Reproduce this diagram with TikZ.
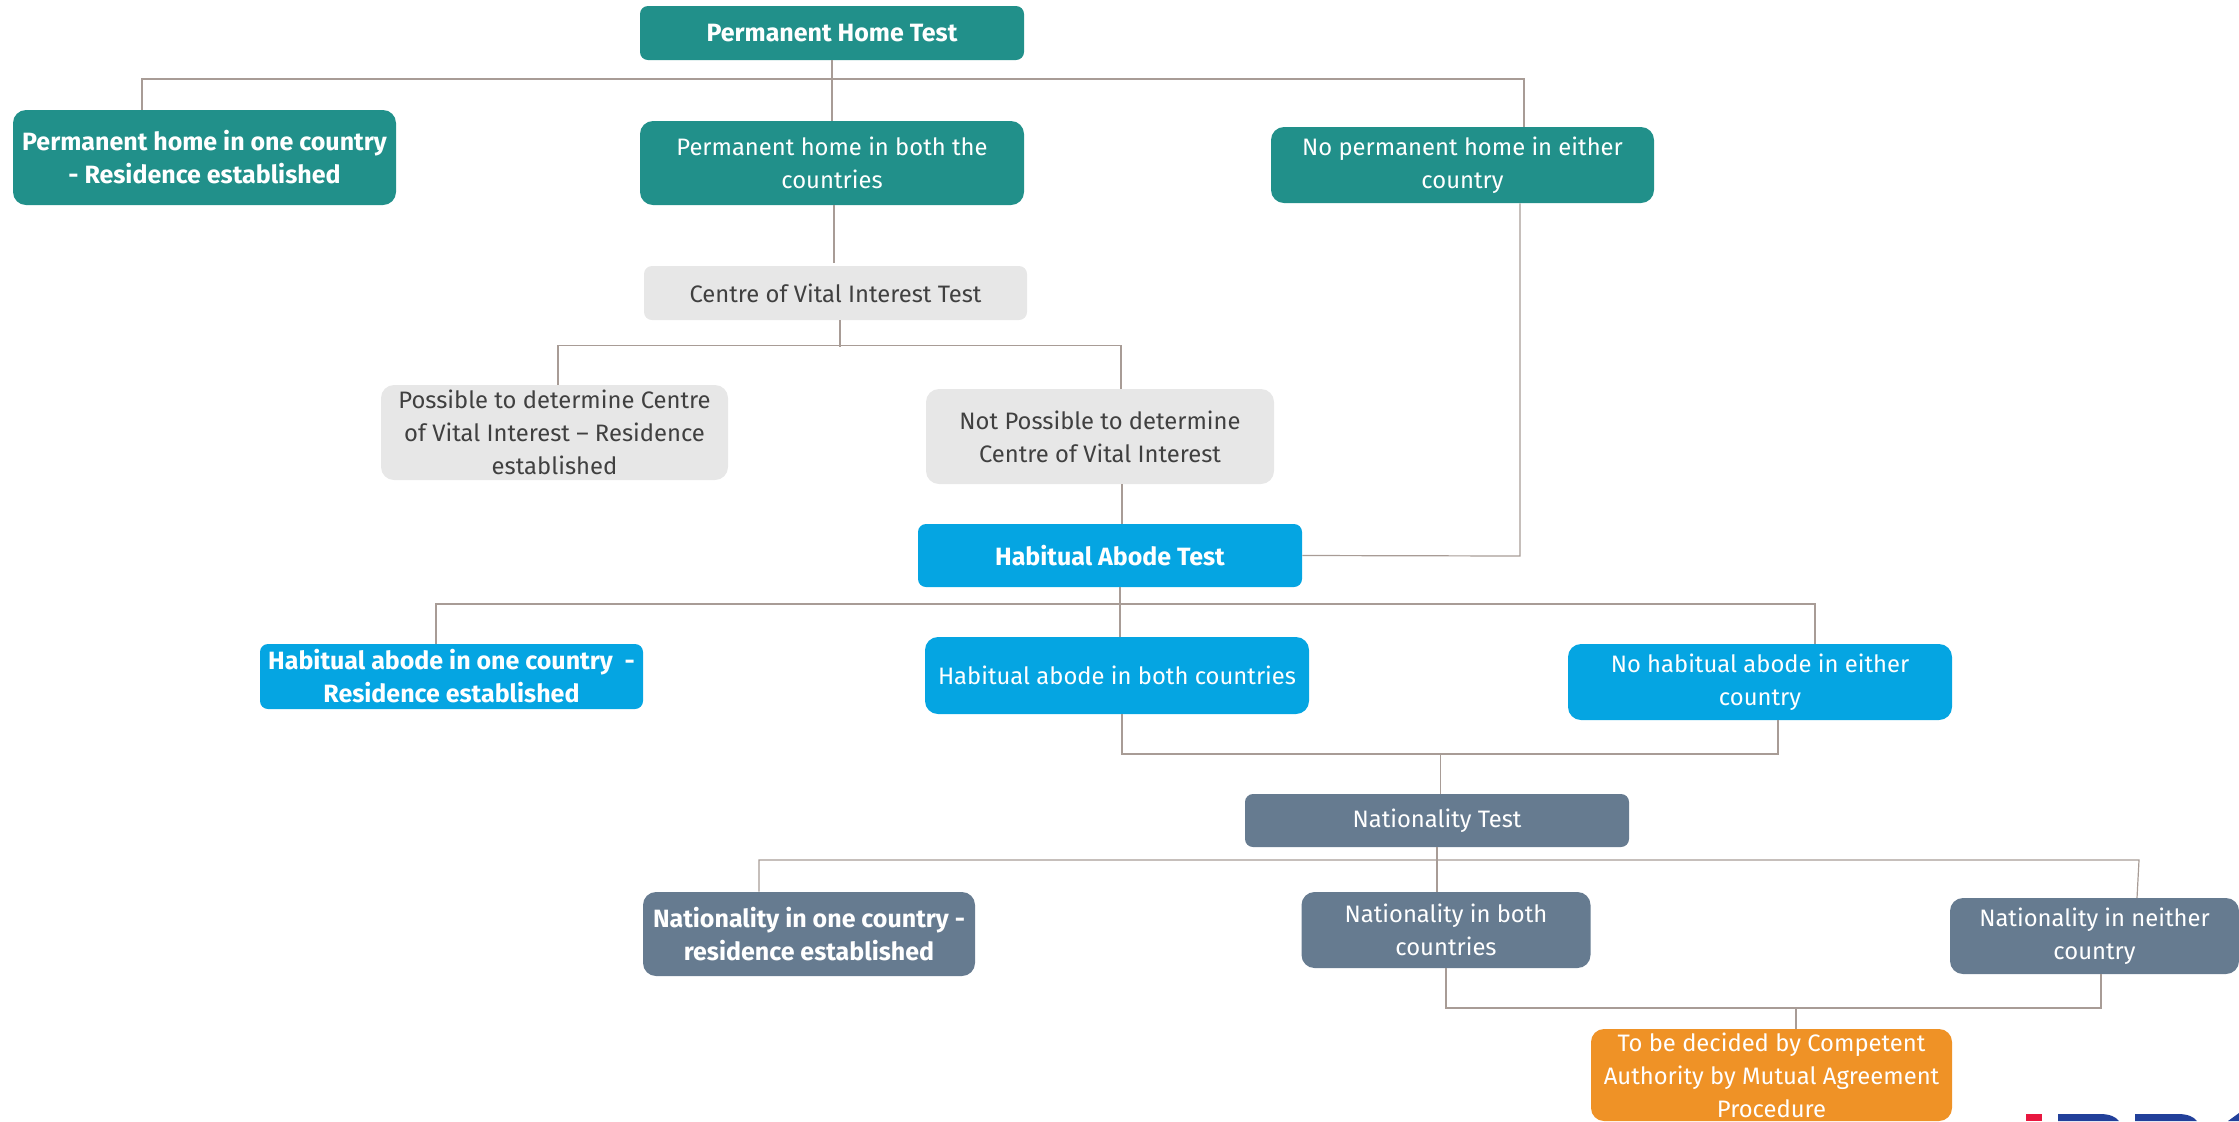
\documentclass[tikz,border=0pt]{standalone}
\usepackage{fontspec}
\setmainfont{Fira Sans}
\definecolor{tealbox}{HTML}{21908A}
\definecolor{greybox}{HTML}{E7E7E7}
\definecolor{bluebox}{HTML}{05A5E2}
\definecolor{slatebox}{HTML}{667B90}
\definecolor{orangebox}{HTML}{EF9226}
\definecolor{linkline}{HTML}{A89C96}
\definecolor{greytext}{HTML}{404040}
\definecolor{logored}{HTML}{E8173F}
\definecolor{logoblue}{HTML}{22409A}
\newcommand{\boxfont}{\fontsize{11.9}{16.5}\selectfont}
\newcommand{\boldboxfont}{\fontsize{12.5}{16.5}\selectfont\bfseries}
\tikzset{
    boxnode/.style={rounded corners=6.5pt, inner sep=0pt, align=center, font=\boxfont, text=white},
    boldnode/.style={font=\boldboxfont},
    lownode/.style={rounded corners=4pt},
    tealnode/.style={boxnode, fill=tealbox},
    greynode/.style={boxnode, fill=greybox, text=greytext},
    bluenode/.style={boxnode, fill=bluebox},
    slatenode/.style={boxnode, fill=slatebox},
    orangenode/.style={boxnode, fill=orangebox},
    link/.style={draw=linkline, line width=0.6pt},
    size/.style 2 args={minimum width=#1*0.5pt, minimum height=#2*0.5pt},
}
\begin{document}
\begin{tikzpicture}[x=0.5pt,y=-0.5pt]
    \useasboundingbox (0,0) rectangle (2239,1121);

    % Permanent home row
    \node[tealnode, boldnode, lownode, size={384}{54}] (homeTest) at (832,33) {Permanent Home Test};
    \node[tealnode, boldnode, size={383}{95}] (homeOne) at (204.5,157.5) {Permanent home in one country\\- Residence established};
    \node[tealnode, size={384}{84}] (homeBoth) at (832,163) {Permanent home in both the\\countries};
    \node[tealnode, size={383}{76}] (homeNone) at (1462.5,165) {No permanent home in either\\country};

    % Centre of vital interest
    \node[greynode, lownode, size={383}{54}] (vitalTest) at (835.5,293) {Centre of Vital Interest Test};
    \node[greynode, size={347}{95}] (vitalYes) at (554.5,432.5) {Possible to determine Centre\\of Vital Interest -- Residence\\established};
    \node[greynode, size={348}{95}] (vitalNo) at (1100,436.5) {Not Possible to determine\\Centre of Vital Interest};

    % Habitual abode
    \node[bluenode, boldnode, lownode, size={384}{63}] (abodeTest) at (1110,555.5) {Habitual Abode Test};
    \node[bluenode, boldnode, lownode, size={383}{65}] (abodeOne) at (451.5,676.5) {Habitual abode in one country\ \ -\\Residence established};
    \node[bluenode, size={384}{77}] (abodeBoth) at (1117,675.5) {Habitual abode in both countries};
    \node[bluenode, size={384}{76}] (abodeNone) at (1760,682) {No habitual abode in either\\country};

    % Nationality
    \node[slatenode, lownode, size={384}{53}] (natTest) at (1437,820.5) {Nationality Test};
    \node[slatenode, boldnode, size={332}{84}] (natOne) at (809,934) {Nationality in one country -\\residence established};
    \node[slatenode, size={289}{76}] (natBoth) at (1446,930) {Nationality in both\\countries};
    \node[slatenode, size={289}{76}] (natNeither) at (2094.5,936) {Nationality in neither\\country};
    \node[orangenode, size={361}{92}] (authority) at (1771.5,1075) {To be decided by Competent\\Authority by Mutual Agreement\\Procedure};

    % Logo, cut by the lower edge
    \fill[logored] (2026,1114) rectangle (2042,1121);
    \fill[logoblue] (2058,1121) -- (2058,1114) -- (2100,1114) .. controls (2110,1114) and (2116,1117) .. (2119,1121) -- cycle;
    \fill[logoblue] (2135,1121) -- (2135,1114) -- (2178,1114) .. controls (2188,1114) and (2194,1117) .. (2197,1121) -- cycle;
    \fill[logoblue] (2228,1121) -- (2239,1113) -- (2239,1121) -- cycle;

    % Bus under the permanent home test
    \coordinate (homeBusL) at (142,79);
    \coordinate (homeBusR) at (1524,79);
    \draw[link] (homeTest) -- (homeBoth);
    \draw[link] (homeOne.north -| homeBusL) -- (homeBusL) -- (homeBusR) -- (homeBusR |- homeNone.north);
    \draw[link] (homeBoth.south) ++(2,0) -- ++(0,58);

    % Bus under the vital interest test
    \coordinate (vitalBusL) at (558,345.5);
    \coordinate (vitalBusR) at (1121,345.5);
    \draw[link] (vitalTest.south) ++(4.5,0) -- ++(0,27);
    \draw[link] (vitalYes.north -| vitalBusL) -- (vitalBusL) -- (vitalBusR) -- (vitalBusR |- vitalNo.north);

    % Into the habitual abode test
    \coordinate (abodeInR) at (1520,556);
    \draw[link] (vitalNo.south -| abodeTest.north) ++(12,0) -- ++(0,40);
    \draw[link] (homeNone.south -| abodeInR) -- (abodeInR) -- (abodeTest.east);

    % Bus under the habitual abode test
    \coordinate (abodeBusL) at (436,604);
    \coordinate (abodeBusR) at (1815,604);
    \coordinate (abodeStem) at (1120,604);
    \draw[link] (abodeTest.south -| abodeStem) -- (abodeBoth.north -| abodeStem);
    \draw[link] (abodeOne.north -| abodeBusL) -- (abodeBusL) -- (abodeBusR) -- (abodeBusR |- abodeNone.north);

    % Bus above the nationality test
    \coordinate (natInL) at (1122,754);
    \coordinate (natInR) at (1778,754);
    \coordinate (natInStem) at (1440.5,754);
    \draw[link] (abodeBoth.south -| natInL) -- (natInL) -- (natInR) -- (natInR |- abodeNone.south);
    \draw[link] (natInStem) -- (natInStem |- natTest.north);

    % Bus under the nationality test
    \coordinate (natBusL) at (759,860);
    \coordinate (natBusR) at (2139,860);
    \draw[link] (natTest.south) -- (natTest.south |- natBoth.north);
    \draw[link] (natOne.north -| natBusL) -- (natBusL) -- (natBusR) -- (2137,898);

    % Bus above the authority box
    \coordinate (authBusL) at (1445,1008);
    \coordinate (authBusR) at (2101,1008);
    \coordinate (authStem) at (1796,1008);
    \draw[link] (natBoth.south) -- (natBoth.south |- authBusL) -- (authBusR) -- (authBusR |- natNeither.south);
    \draw[link] (authStem) -- (authStem |- authority.north);
\end{tikzpicture}
\end{document}
